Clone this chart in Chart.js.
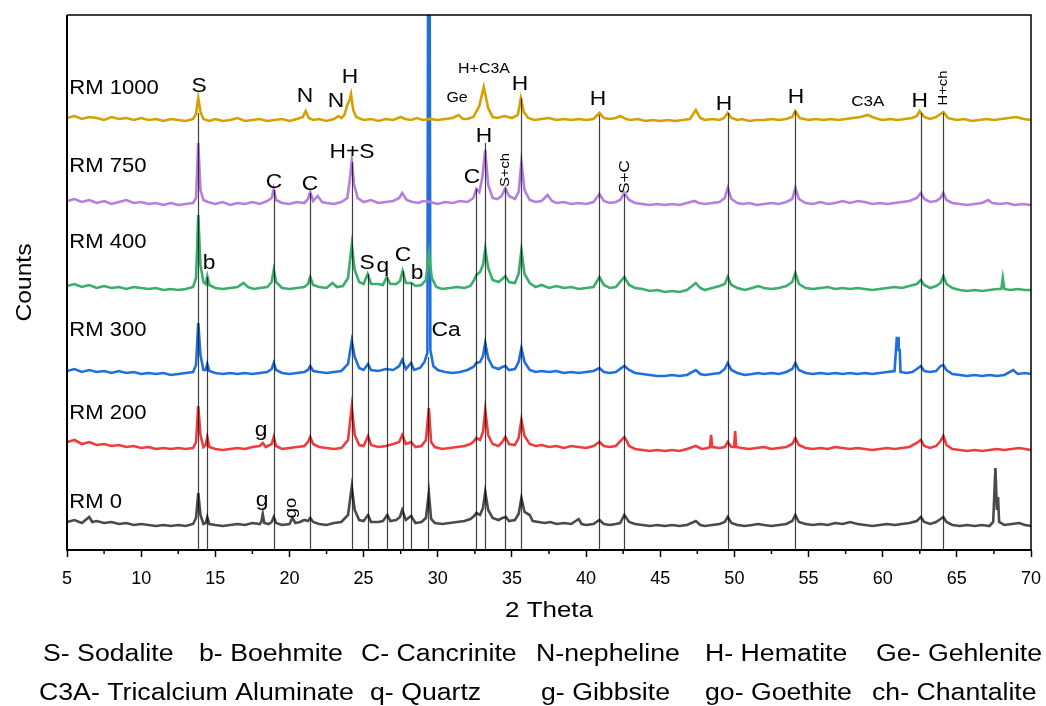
<!DOCTYPE html>
<html>
<head>
    <title>XRD patterns</title>
    <script src="https://cdn.jsdelivr.net/npm/chart.js"></script>
    <style>
        body { margin: 0; background: #fff; }
    </style>
</head>
<body>
    <canvas id="xrdChart" width="1046" height="706"></canvas>

    <script>
        // patterns, [2theta, counts] (counts already stacked)
        const rm1000 = [[5,432],[5.5,434],[6,431],[6.5,433],[7,432],[7.5,430],[8,433],[8.5,431],[9,432],[9.5,430],[10,432],[10.5,430],[11,431],[11.5,429],[12,431],[12.5,430],[13,429],[13.5,431],[13.7,436],[13.85,452],[14.0,438],[14.2,431],[14.6,429],[15,431],[15.5,429],[16,430],[16.5,432],[17,429],[17.5,430],[18,431],[18.5,429],[19,430],[19.5,431],[20,429],[20.5,431],[20.9,433],[21.1,439],[21.3,432],[21.6,430],[22,431],[22.5,429],[23,431],[23.3,434],[23.5,432],[23.7,435],[23.9,445],[24.05,450],[24.15,456],[24.3,440],[24.5,433],[25,430],[25.5,431],[26,429],[26.5,431],[27,430],[27.5,433],[27.8,431],[28.2,430],[28.6,432],[29,430],[29.5,431],[30,430],[30.5,431],[31,432],[31.4,435],[31.7,431],[32,431],[32.4,433],[32.8,444],[33.1,463],[33.4,442],[33.7,433],[34,432],[34.5,434],[35,432],[35.4,435],[35.6,452],[35.8,438],[36.1,432],[36.5,430],[37,431],[37.5,432],[38,430],[38.5,431],[39,430],[39.5,431],[40,430],[40.5,431],[40.9,437],[41.2,432],[41.6,431],[42,432],[42.3,434],[42.7,431],[43,430],[43.5,431],[44,429],[44.5,430],[45,429],[45.5,430],[46,429],[46.5,430],[47,431],[47.4,440],[47.7,432],[48,430],[48.5,431],[49,430],[49.3,432],[49.55,437],[49.8,432],[50.2,430],[50.5,431],[51,429],[51.5,430],[52,430],[52.5,431],[53,430],[53.5,431],[53.9,433],[54.1,439],[54.4,432],[55,430],[55.5,431],[56,430],[56.5,431],[57,430],[57.5,431],[58,432],[58.5,433],[59,435],[59.3,433],[59.7,431],[60,430],[60.5,431],[61,430],[61.5,431],[62,432],[62.3,434],[62.5,439],[62.8,433],[63.2,431],[63.6,433],[64.1,438],[64.4,432],[65,430],[65.5,431],[66,429],[66.5,430],[67,431],[67.5,430],[68,431],[68.5,432],[69,433],[69.5,431],[70,430]];

        const rm750 = [[5,349],[5.5,351],[6,348],[6.5,350],[7,347],[7.5,349],[8,346],[8.5,348],[9,350],[9.5,347],[10,348],[10.5,346],[11,347],[11.5,345],[12,347],[12.5,345],[13,346],[13.5,347],[13.7,352],[13.85,407],[14.0,360],[14.2,350],[14.5,348],[15,346],[15.5,348],[16,345],[16.5,347],[17,346],[17.5,348],[18,346],[18.5,349],[18.8,352],[18.94,361],[19.1,350],[19.5,347],[20,346],[20.5,348],[21,347],[21.25,351],[21.4,358],[21.6,349],[21.9,354],[22.2,348],[22.5,347],[23,346],[23.5,348],[23.9,352],[24.05,368],[24.2,389],[24.35,366],[24.6,352],[25,348],[25.5,350],[26,347],[26.5,348],[27,349],[27.4,352],[27.6,357],[27.9,350],[28.3,348],[28.7,347],[29,349],[29.5,348],[30,346],[30.5,348],[31,347],[31.5,349],[32,348],[32.4,352],[32.6,361],[32.8,358],[33.0,372],[33.2,400],[33.4,365],[33.7,352],[34,351],[34.3,354],[34.56,362],[34.8,354],[35.2,351],[35.45,358],[35.64,388],[35.85,360],[36.2,350],[36.6,348],[37,349],[37.4,355],[37.7,349],[38,347],[38.5,348],[39,346],[39.5,347],[40,346],[40.5,348],[40.9,356],[41.2,349],[41.6,347],[42,348],[42.3,350],[42.58,357],[42.9,350],[43.3,347],[43.8,346],[44.3,345],[44.8,346],[45.3,345],[45.8,346],[46.3,345],[46.8,347],[47.3,349],[47.6,347],[48,346],[48.5,347],[49,348],[49.35,352],[49.55,362],[49.8,351],[50.2,347],[50.6,346],[51,347],[51.5,345],[52,346],[52.5,347],[53,346],[53.5,348],[53.9,351],[54.11,362],[54.35,351],[54.8,347],[55.3,346],[55.8,348],[56.3,346],[56.8,347],[57.3,349],[57.8,347],[58.3,349],[58.8,348],[59.3,346],[59.8,347],[60.3,346],[60.8,347],[61.3,348],[61.8,349],[62.3,352],[62.57,357],[62.8,351],[63.2,348],[63.6,349],[63.9,352],[64.09,357],[64.3,350],[64.7,347],[65.2,346],[65.7,345],[66.2,346],[66.7,347],[67.1,350],[67.4,347],[67.9,346],[68.4,347],[68.9,345],[69.4,346],[70,345]];

        const rm400 = [[5,264],[5.5,266],[6,263],[6.5,265],[7,262],[7.5,264],[8,262],[8.5,263],[9,261],[9.5,263],[10,262],[10.5,261],[11,262],[11.5,260],[12,261],[12.5,260],[13,261],[13.5,263],[13.7,272],[13.85,335],[14.0,285],[14.2,268],[14.35,266],[14.46,274],[14.6,265],[15,262],[15.5,261],[16,262],[16.5,263],[16.9,267],[17.2,263],[17.6,261],[18,262],[18.5,263],[18.8,268],[18.94,280],[19.1,268],[19.5,262],[20,261],[20.5,262],[21,263],[21.25,266],[21.4,273],[21.6,265],[22,263],[22.5,262],[22.9,267],[23.2,263],[23.6,264],[23.95,272],[24.2,305],[24.4,280],[24.7,268],[25.0,266],[25.27,276],[25.5,266],[26,266],[26.3,265],[26.56,273],[26.8,266],[27.2,266],[27.45,269],[27.63,279],[27.85,267],[28.22,267],[28.5,264],[28.9,265],[29.2,270],[29.4,297],[29.6,272],[29.9,263],[30.3,261],[30.8,262],[31.3,263],[31.8,262],[32.2,264],[32.45,270],[32.6,275],[32.85,278],[33.05,285],[33.2,301],[33.4,282],[33.7,270],[34.1,268],[34.35,271],[34.56,274],[34.8,268],[35.2,267],[35.45,276],[35.64,300],[35.85,276],[36.2,267],[36.6,263],[37,265],[37.5,262],[38,264],[38.5,262],[39,263],[39.5,261],[40,262],[40.5,263],[40.9,273],[41.2,265],[41.6,262],[42,263],[42.58,273],[42.9,265],[43.3,262],[43.8,261],[44.3,259],[44.8,260],[45.3,258],[45.8,259],[46.3,258],[46.8,260],[47.4,267],[47.7,262],[48,260],[48.5,262],[49,264],[49.35,266],[49.55,273],[49.8,265],[50.2,262],[50.7,260],[51.2,262],[51.6,264],[52,262],[52.5,261],[53,262],[53.5,264],[53.9,268],[54.11,277],[54.35,266],[54.8,262],[55.3,261],[55.8,262],[56.3,263],[56.8,261],[57.3,262],[57.8,261],[58.3,262],[58.8,261],[59.3,260],[59.8,261],[60.3,262],[60.8,263],[61.3,262],[61.8,264],[62.3,266],[62.57,270],[62.8,265],[63.2,262],[63.6,264],[63.9,267],[64.09,274],[64.3,266],[64.7,262],[65.2,260],[65.7,259],[66.2,260],[66.7,259],[67.2,260],[67.7,261],[68.0,261],[68.1,272],[68.2,261],[68.6,260],[69.1,261],[69.6,260],[70,260]];

        const rm300 = [[5,179],[5.5,181],[6,178],[6.5,180],[7,178],[7.5,179],[8,177],[8.5,179],[9,177],[9.5,178],[10,176],[10.5,177],[11,176],[11.5,177],[12,175],[12.5,176],[13,177],[13.5,178],[13.7,185],[13.85,227],[14.0,195],[14.2,180],[14.35,180],[14.46,186],[14.6,179],[15,177],[15.5,176],[16,177],[16.5,176],[17,177],[17.5,176],[18,177],[18.5,178],[18.8,181],[18.94,187],[19.1,180],[19.5,177],[20,176],[20.5,177],[21,178],[21.25,180],[21.4,184],[21.6,179],[22,178],[22.5,177],[23,178],[23.5,179],[23.95,186],[24.2,209],[24.4,193],[24.7,182],[25.0,180],[25.3,186],[25.5,180],[26,179],[26.5,181],[27,180],[27.4,184],[27.6,190],[27.85,181],[28.2,187],[28.4,180],[28.8,182],[29.1,188],[29.3,197],[29.35,600],[29.45,600],[29.5,200],[29.7,184],[30,180],[30.5,178],[31,177],[31.5,178],[32,180],[32.4,183],[32.6,187],[32.85,188],[33.05,194],[33.2,207],[33.4,192],[33.7,183],[34.1,181],[34.35,183],[34.56,184],[34.8,180],[35.2,181],[35.45,188],[35.64,202],[35.85,188],[36.2,180],[36.6,178],[37,179],[37.5,178],[38,179],[38.5,177],[39,178],[39.5,177],[40,178],[40.5,179],[40.9,182],[41.2,178],[41.6,177],[42,178],[42.58,184],[42.9,180],[43.3,177],[43.8,176],[44.3,175],[44.8,174],[45.3,174],[45.8,175],[46.3,174],[46.8,175],[47.4,180],[47.7,176],[48,175],[48.5,176],[49,177],[49.35,181],[49.55,187],[49.8,180],[50.2,177],[50.7,175],[51.2,176],[51.6,177],[52,176],[52.5,177],[53,176],[53.5,178],[53.9,181],[54.11,187],[54.35,180],[54.8,177],[55.3,176],[55.8,177],[56.3,176],[56.8,177],[57.3,176],[57.8,177],[58.3,176],[58.8,177],[59.3,176],[59.8,177],[60.3,178],[60.8,179],[60.95,212],[61.05,212],[61.08,200],[61.15,200],[61.2,178],[61.6,177],[62,178],[62.3,181],[62.57,184],[62.8,179],[63.2,178],[63.6,179],[63.9,184],[64.09,185],[64.3,180],[64.7,176],[65.2,175],[65.7,174],[66.2,175],[66.7,174],[67.2,175],[67.7,174],[68.2,175],[68.8,180],[69.1,176],[69.6,177],[70,176]];

        const rm200 = [[5,108],[5.5,110],[6,106],[6.5,108],[7,105],[7.5,106],[8,104],[8.5,105],[9,103],[9.5,104],[10,102],[10.5,103],[11,101],[11.5,102],[12,101],[12.5,102],[13,101],[13.5,102],[13.7,108],[13.85,144],[14.0,115],[14.2,103],[14.35,105],[14.46,113],[14.6,103],[15,101],[15.5,100],[16,101],[16.5,102],[17,101],[17.5,103],[18,104],[18.2,107],[18.4,103],[18.8,106],[18.94,113],[19.1,104],[19.5,101],[20,102],[20.5,103],[21,104],[21.25,108],[21.4,113],[21.6,106],[22,103],[22.5,102],[23,101],[23.5,102],[23.95,110],[24.2,143],[24.4,115],[24.7,105],[25.0,104],[25.3,114],[25.5,105],[26,103],[26.5,104],[27,106],[27.4,108],[27.6,115],[27.85,106],[28.2,108],[28.5,103],[28.9,104],[29.2,110],[29.4,142],[29.55,108],[29.8,103],[30.3,101],[30.8,102],[31.3,103],[31.8,104],[32.2,106],[32.45,109],[32.6,112],[32.85,110],[33.05,118],[33.2,140],[33.4,115],[33.7,106],[34.1,104],[34.35,108],[34.56,113],[34.8,106],[35.2,105],[35.45,112],[35.64,130],[35.85,114],[36.2,106],[36.6,104],[37,105],[37.5,103],[38,104],[38.5,102],[39,104],[39.5,103],[40,102],[40.5,104],[40.9,108],[41.2,104],[41.6,103],[42,104],[42.58,113],[42.75,109],[42.9,104],[43.3,101],[43.8,100],[44.3,99],[44.8,100],[45.3,99],[45.8,100],[46.3,99],[46.8,101],[47.4,104],[47.8,101],[48.2,102],[48.35,103],[48.43,115],[48.5,103],[49,102],[49.35,103],[49.55,108],[49.8,103],[49.98,103],[50.05,119],[50.12,103],[50.5,102],[51,101],[51.5,102],[52,103],[52.5,101],[53,102],[53.5,103],[53.9,106],[54.11,112],[54.35,105],[54.8,102],[55.3,101],[55.8,102],[56.3,101],[56.8,103],[57.3,102],[57.8,101],[58.3,102],[58.8,101],[59.3,100],[59.8,101],[60.3,102],[60.8,101],[61.3,102],[61.8,103],[62.3,107],[62.57,110],[62.8,104],[63.2,102],[63.6,104],[63.9,109],[64.09,114],[64.3,105],[64.7,101],[65.2,100],[65.7,99],[66.2,100],[66.7,99],[67.2,100],[67.7,101],[68.2,100],[68.7,101],[69.2,102],[69.6,101],[70,100]];

        const rm0 = [[5,28],[5.5,30],[6,27],[6.5,33],[6.7,28],[7,29],[7.5,27],[8,28],[8.5,26],[9,27],[9.5,25],[10,26],[10.5,25],[11,24],[11.5,25],[12,24],[12.5,25],[13,24],[13.5,26],[13.7,32],[13.85,57],[14.0,35],[14.2,26],[14.35,27],[14.46,33],[14.6,26],[15,25],[15.5,24],[16,25],[16.5,26],[17,25],[17.5,27],[18,26],[18.1,28],[18.2,36],[18.3,27],[18.6,26],[18.8,28],[18.94,33],[19.1,27],[19.5,25],[20,26],[20.2,32],[20.4,27],[20.7,28],[21,30],[21.25,29],[21.4,32],[21.6,28],[22,26],[22.5,25],[23,27],[23.5,28],[23.95,35],[24.2,63],[24.4,40],[24.7,30],[25.0,29],[25.3,35],[25.5,28],[26,28],[26.3,29],[26.6,35],[26.8,29],[27.2,30],[27.45,33],[27.6,40],[27.85,30],[28.2,34],[28.5,27],[28.9,28],[29.2,32],[29.4,57],[29.55,31],[29.8,27],[30.3,26],[30.8,27],[31.3,28],[31.8,29],[32.2,31],[32.45,34],[32.6,37],[32.85,35],[33.05,42],[33.2,58],[33.4,40],[33.7,32],[34.1,30],[34.35,32],[34.6,33],[34.8,29],[35.2,30],[35.45,36],[35.64,52],[35.85,38],[36.2,35],[36.4,29],[36.8,28],[37.2,27],[37.6,28],[38,26],[38.5,27],[39,26],[39.5,31],[39.7,26],[40,25],[40.5,26],[40.9,30],[41.2,26],[41.6,25],[42,26],[42.3,27],[42.58,35],[42.9,28],[43.3,26],[43.8,25],[44.3,24],[44.8,25],[45.3,24],[45.8,25],[46.3,24],[46.8,25],[47.4,29],[47.7,25],[48,24],[48.5,25],[49,26],[49.35,28],[49.55,33],[49.8,27],[50.2,25],[50.7,24],[51.2,25],[51.6,26],[52,25],[52.5,24],[53,25],[53.5,26],[53.9,29],[54.11,35],[54.35,28],[54.8,26],[55.3,25],[55.8,26],[56.3,25],[56.8,27],[57.3,26],[57.8,28],[58.3,26],[58.8,25],[59.3,24],[59.8,25],[60.3,26],[60.8,25],[61.3,26],[61.8,27],[62.3,29],[62.57,33],[62.8,28],[63.2,26],[63.6,28],[63.9,31],[64.09,33],[64.3,28],[64.7,25],[65.2,24],[65.7,25],[66.2,24],[66.7,25],[67.2,24],[67.45,28],[67.6,82],[67.7,40],[67.78,53],[67.85,28],[68.2,25],[68.7,26],[69.2,27],[69.6,25],[70,24]];

        const seriesNames = ['RM 1000', 'RM 750', 'RM 400', 'RM 300', 'RM 200', 'RM 0'];
        const seriesData = [rm1000, rm750, rm400, rm300, rm200, rm0];
        const seriesColors = ['#d6a000', '#b47fdd', '#3aae6a', '#1f6fdc', '#f03c3c', '#4a4a4a'];
        // where the sample names sit: [2theta, counts]
        const seriesNamePos = [[5.15, 462], [5.15, 384], [5.15, 308], [5.15, 220], [5.15, 137], [5.15, 48]];

        // reference lines: [2theta, top in counts], run down to the axis
        const markerLines = [[13.85,437],[14.46,273],[18.94,360],[21.39,357],[24.2,388],[25.27,276],[26.56,273],[27.63,279],[28.22,267],[29.37,193],[32.6,361],[33.19,407],[34.56,362],[35.64,452],[40.9,435],[42.58,356],[49.55,437],[54.11,439],[62.57,437],[64.09,437]];

        // phase labels: [text, 2theta, counts, font size, rotated]
        const phaseLabels = [
            ['S', 13.9, 464, 20, false], ['N', 21.05, 454, 20, false], ['N', 23.14, 449, 20, false],
            ['H', 24.08, 473, 20, false], ['Ge', 31.3, 452, 14, false], ['H+C3A', 33.12, 481, 14, false],
            ['H', 35.55, 466, 20, false], ['H', 40.8, 451, 20, false], ['H', 49.3, 446, 20, false],
            ['H', 54.16, 453, 20, false], ['C3A', 59.0, 448, 15, false], ['H', 62.5, 449, 20, false],
            ['H+ch', 64.07, 462, 13, true],
            ['C', 18.96, 368, 20, false], ['C', 21.39, 366, 20, false], ['H+S', 24.22, 398, 20, false],
            ['C', 32.3, 373, 20, false], ['H', 33.12, 414, 20, false], ['S+ch', 34.53, 380, 13, true],
            ['S+C', 42.63, 373, 15, true],
            ['b', 14.58, 287, 20, false], ['S', 25.23, 287, 20, false], ['q', 26.3, 284, 20, false],
            ['C', 27.66, 295, 20, false], ['b', 28.6, 277, 20, false], ['Ca', 30.56, 220, 20, false],
            ['g', 18.08, 120, 20, false], ['g', 18.15, 50, 20, false], ['go', 20.17, 42, 16, true]
        ];

        const legendRow1 = [['S- Sodalite', 43], ['b- Boehmite', 199], ['C- Cancrinite', 361], ['N-nepheline', 536], ['H- Hematite', 705], ['Ge- Gehlenite', 876]];
        const legendRow2 = [['C3A- Tricalcium Aluminate', 39], ['q- Quartz', 370], ['g- Gibbsite', 541], ['go- Goethite', 705], ['ch- Chantalite', 872]];

        const FONT = '"Liberation Sans", Arial, sans-serif';

        // the original figure's lettering is a bit wider than Arial, so stretch it
        function text(ctx, txt, px, py, size, align, stretch, rot) {
            ctx.save();
            ctx.font = size + 'px ' + FONT;
            ctx.textAlign = align;
            ctx.textBaseline = 'middle';
            ctx.translate(px, py);
            if (rot) ctx.rotate(-Math.PI / 2);
            ctx.scale(stretch, 1);
            ctx.fillText(txt, 0, 0);
            ctx.restore();
        }

        const decor = {
            id: 'decor',
            afterDatasetsDraw(chart) {
                const { ctx, chartArea: a, scales: { x, y } } = chart;
                ctx.save();
                // marker lines
                ctx.strokeStyle = 'rgba(0,0,0,0.75)';
                ctx.lineWidth = 1.2;
                markerLines.forEach(([t, top]) => {
                    const px = Math.round(x.getPixelForValue(t)) + 0.5;
                    ctx.beginPath();
                    ctx.moveTo(px, y.getPixelForValue(top));
                    ctx.lineTo(px, a.bottom);
                    ctx.stroke();
                });
                // frame
                ctx.strokeStyle = '#000';
                ctx.lineWidth = 1.5;
                ctx.beginPath();
                ctx.moveTo(a.left, a.top);
                ctx.lineTo(a.right, a.top);
                ctx.lineTo(a.right, a.bottom);
                ctx.stroke();
                ctx.lineWidth = 2;
                ctx.beginPath();
                ctx.moveTo(a.left, a.top);
                ctx.lineTo(a.left, a.bottom);
                ctx.stroke();
                // minor ticks
                ctx.lineWidth = 1.5;
                for (let t = 7.5; t < 70; t += 5) {
                    const px = x.getPixelForValue(t);
                    ctx.beginPath();
                    ctx.moveTo(px, a.bottom);
                    ctx.lineTo(px, a.bottom + 4);
                    ctx.stroke();
                }
                ctx.fillStyle = '#000';
                phaseLabels.forEach(([txt, t, v, size, rot]) => {
                    text(ctx, txt, x.getPixelForValue(t), y.getPixelForValue(v), size, 'center', 1.14, rot);
                });
                seriesNames.forEach((name, i) => {
                    const [t, v] = seriesNamePos[i];
                    text(ctx, name, x.getPixelForValue(t), y.getPixelForValue(v), 21, 'left', 1.05, false);
                });
                // axis titles
                text(ctx, '2 Theta', (a.left + a.right) / 2, 611, 22, 'center', 1.18, false);
                text(ctx, 'Counts', 25, (a.top + a.bottom) / 2, 22, 'center', 1.12, true);
                // abbreviation key
                legendRow1.forEach(([txt, px]) => text(ctx, txt, px, 655, 23, 'left', 1.16, false));
                legendRow2.forEach(([txt, px]) => text(ctx, txt, px, 694, 23, 'left', 1.16, false));
                ctx.restore();
            }
        };

        new Chart(document.getElementById('xrdChart').getContext('2d'), {
            type: 'line',
            data: {
                datasets: seriesData.map((d, i) => ({
                    label: seriesNames[i],
                    data: d.map(p => ({ x: p[0], y: p[1] })),
                    borderColor: seriesColors[i],
                    borderWidth: 2.6,
                    pointRadius: 0,
                    tension: 0,
                    fill: false
                }))
            },
            options: {
                responsive: false,
                animation: false,
                layout: { padding: { left: 67, right: 15, top: 15, bottom: 116 } },
                plugins: { legend: { display: false }, tooltip: { enabled: false } },
                scales: {
                    x: {
                        type: 'linear',
                        min: 5,
                        max: 70,
                        afterFit: s => { s.height = 40; s.paddingLeft = 0; s.paddingRight = 0; },
                        ticks: { stepSize: 5, color: '#000', padding: 11, font: { size: 18, family: FONT } },
                        grid: { drawOnChartArea: false, tickLength: 7, tickColor: '#000', tickWidth: 1.5 },
                        border: { color: '#000', width: 2 }
                    },
                    y: { display: false, min: 0, max: 535 }
                }
            },
            plugins: [decor]
        });
    </script>
</body>
</html>
